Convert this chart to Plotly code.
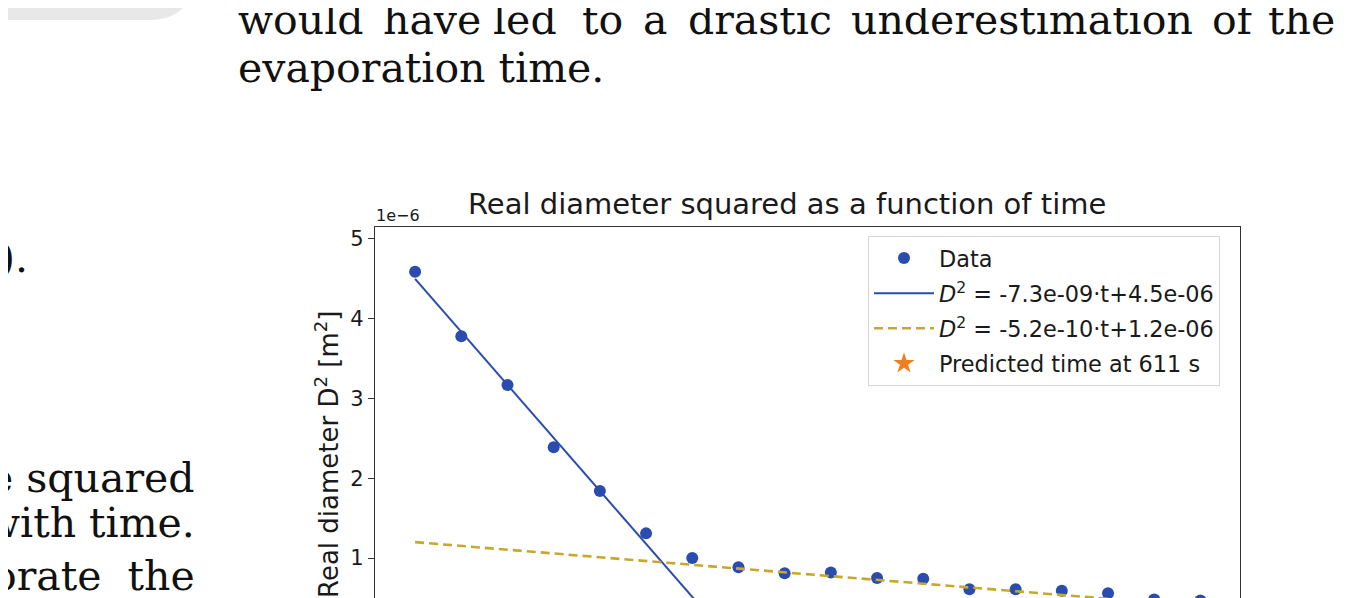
import plotly.graph_objects as go

# 측정 데이터 (시간 [s], 지름 제곱 [m^2])
times = [0, 91, 182, 273, 364, 455, 546, 637, 728, 819, 910, 1001, 1092, 1183, 1274, 1365, 1456, 1547]
d2_values = [4.59e-6, 3.78e-6, 3.17e-6, 2.39e-6, 1.84e-6, 1.31e-6, 1.00e-6, 0.885e-6, 0.81e-6,
             0.82e-6, 0.75e-6, 0.74e-6, 0.61e-6, 0.61e-6, 0.59e-6, 0.56e-6, 0.48e-6, 0.47e-6]

# 두 구간의 선형 근사 계수 (범례에 표시된 값)
fit1_slope, fit1_intercept = -7.3e-9, 4.5e-6
fit2_slope, fit2_intercept = -5.2e-10, 1.2e-6
predicted_time = 611

y_tick_values = [1e-6, 2e-6, 3e-6, 4e-6, 5e-6]
y_tick_labels = ["1", "2", "3", "4", "5"]

# 페이지 크기와 플롯 영역 (페이지 픽셀 기준, body 여백 8px 보정)
W, H = 1352, 598
OFF = 8
L, R, T, B = 375, 1240, 227, 598


def px(x, y):
    # 페이지 픽셀 좌표 -> paper 좌표
    return (x - L) / (R - L), (B - y) / (B - T)


fit1 = [fit1_slope * t + fit1_intercept for t in times]
fit2 = [fit2_slope * t + fit2_intercept for t in times]

fig = go.Figure()
fig.add_trace(go.Scatter(x=times, y=d2_values, mode="markers", name="Data", legendgroup="a",
                         marker=dict(color="#2a4cae", size=12)))
fig.add_trace(go.Scatter(x=times, y=fit1, mode="lines", legendgroup="b",
                         name="<i>D</i><sup>2</sup> = -7.3e-09·t+4.5e-06",
                         line=dict(color="#2a4cae", width=2)))
fig.add_trace(go.Scatter(x=times, y=fit2, mode="lines", legendgroup="c",
                         name="<i>D</i><sup>2</sup> = -5.2e-10·t+1.2e-06",
                         line=dict(color="#c8a82a", width=2.6, dash="9px,5px")))
fig.add_trace(go.Scatter(x=[predicted_time], y=[0], mode="markers", legendgroup="d",
                         name=f"Predicted time at {predicted_time} s",
                         marker=dict(color="#f07f1e", size=16, symbol="star")))

font = "DejaVu Sans"
serif = "DejaVu Serif"

fig.update_layout(
    width=W, height=H,
    margin=dict(l=L - OFF, r=W - R + OFF, t=T - OFF, b=H - (B - OFF)),
    paper_bgcolor="white", plot_bgcolor="white",
    font=dict(family=font, color="#1a1a1a", size=21),
    showlegend=True,
    legend=dict(x=px(868, 0)[0], y=px(0, 236)[1], xanchor="left", yanchor="top",
                bgcolor="rgba(255,255,255,0.9)", bordercolor="#d6d6d6", borderwidth=1,
                font=dict(size=22.4, family=font), tracegroupgap=3, itemwidth=60),
    xaxis=dict(range=[-79, 1625], side="top", showline=True, linecolor="#333", linewidth=1.3,
               showticklabels=False, ticks="", showgrid=False, zeroline=False),
    yaxis=dict(range=[0.5e-6, 5.15e-6], showline=True, mirror=True, linecolor="#333", linewidth=1.3,
               tickvals=y_tick_values, ticktext=y_tick_labels, ticks="outside", ticklen=6,
               tickcolor="#333", tickfont=dict(size=21), showgrid=False, zeroline=False),
)

ann = []
# 차트 제목과 축 텍스트
tx, ty = px(787, 204)
ann.append(dict(text="Real diameter squared as a function of time", x=tx, y=ty,
                font=dict(size=29, family=font)))
ex, ey = px(398, 215)
ann.append(dict(text="1e−6", x=ex, y=ey, font=dict(size=16, family=font)))
yx, yy = px(327, 454)
ann.append(dict(text="Real diameter D<sup>2</sup> [m<sup>2</sup>]", x=yx, y=yy, textangle=-90,
                font=dict(size=26, family=font)))

# 문서 본문 텍스트 (첫 줄은 양쪽 정렬이라 단어별로 배치)
first_line_words = ["would", "have", "led", "to", "a", "drastic", "underestimation", "of", "the"]
first_line_x = [236, 381, 491, 580, 641, 686, 849, 1210, 1266]
doc_lines = [
    ("evaporation time.", 236, 68, "left"),
    (").", 30, 258, "right"),
    ("e squared", 197, 478, "right"),
    ("with time.", 197, 523, "right"),
    ("orate  the", 197, 576, "right"),
]
for w, x0 in zip(first_line_words, first_line_x):
    doc_lines.append((w, x0, 20, "left"))
for text, x0, y0, anchor in doc_lines:
    dx, dy = px(x0, y0)
    ann.append(dict(text=text, x=dx, y=dy, xanchor=anchor, font=dict(size=41, family=serif, color="#111")))

for a in ann:
    a.setdefault("xanchor", "center")
    a.update(xref="paper", yref="paper", showarrow=False, yanchor="middle")
fig.update_layout(annotations=ann)

# 왼쪽 위 회색 박스
fig.add_shape(type="path", xref="paper", yref="paper", layer="below",
              path=f"M {px(-5,-5)[0]},{px(-5,-5)[1]} L {px(192,-5)[0]},{px(192,-5)[1]} "
                   f"Q {px(180,20)[0]},{px(180,20)[1]} {px(150,20)[0]},{px(150,20)[1]} "
                   f"L {px(-5,20)[0]},{px(-5,20)[1]} Z",
              fillcolor="#e8e8e8", line=dict(width=0))

fig.write_html("out.html")
